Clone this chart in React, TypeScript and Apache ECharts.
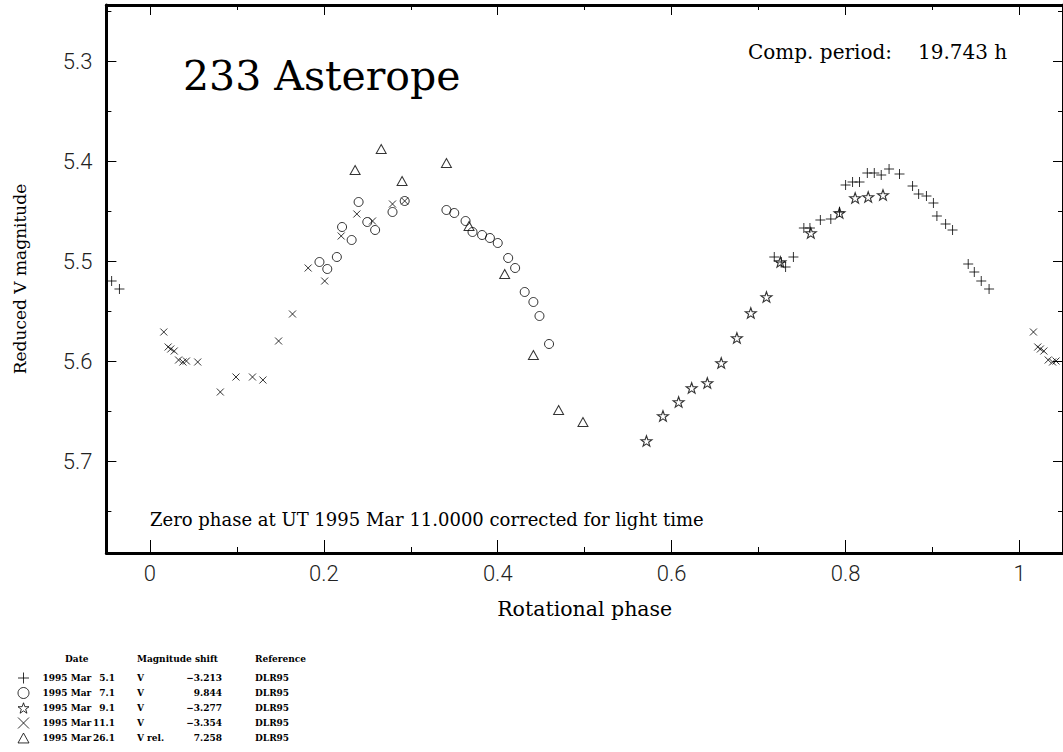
import React, { useEffect, useRef } from "react";
import * as echarts from "echarts";

// Phased photometry of 233 Asterope, one array pair per observing night
const plusPhase = [0.718, 0.726, 0.731, 0.740, 0.752, 0.759, 0.771, 0.783, 0.793, 0.800, 0.808, 0.816, 0.825, 0.833, 0.841, 0.850, 0.862, 0.877, 0.884, 0.893, 0.901, 0.905, 0.915, 0.923, 0.941, 0.948, 0.956, 0.965];
const plusMag = [5.496, 5.501, 5.506, 5.496, 5.467, 5.467, 5.459, 5.458, 5.451, 5.424, 5.421, 5.421, 5.412, 5.412, 5.414, 5.408, 5.413, 5.425, 5.433, 5.435, 5.442, 5.455, 5.463, 5.469, 5.503, 5.511, 5.520, 5.528];

const circlePhase = [0.195, 0.204, 0.215, 0.221, 0.232, 0.240, 0.250, 0.259, 0.279, 0.293, 0.341, 0.350, 0.363, 0.371, 0.382, 0.391, 0.400, 0.412, 0.420, 0.431, 0.441, 0.448, 0.459];
const circleMag = [5.501, 5.508, 5.496, 5.466, 5.479, 5.441, 5.461, 5.469, 5.451, 5.440, 5.449, 5.452, 5.460, 5.471, 5.474, 5.477, 5.482, 5.497, 5.507, 5.531, 5.541, 5.555, 5.583];

const starPhase = [0.571, 0.590, 0.608, 0.623, 0.641, 0.657, 0.675, 0.691, 0.709, 0.725, 0.760, 0.793, 0.811, 0.826, 0.843];
const starMag = [5.680, 5.655, 5.641, 5.627, 5.622, 5.602, 5.577, 5.552, 5.536, 5.501, 5.472, 5.452, 5.437, 5.436, 5.434];

const crossPhase = [0.016, 0.021, 0.024, 0.028, 0.033, 0.038, 0.042, 0.055, 0.081, 0.099, 0.118, 0.130, 0.148, 0.164, 0.182, 0.201, 0.220, 0.238, 0.256, 0.279, 0.293];
const crossMag = [5.571, 5.586, 5.588, 5.590, 5.599, 5.601, 5.600, 5.601, 5.631, 5.616, 5.616, 5.619, 5.580, 5.553, 5.507, 5.520, 5.475, 5.453, 5.460, 5.443, 5.440];

const trianglePhase = [0.236, 0.266, 0.290, 0.341, 0.367, 0.408, 0.441, 0.470, 0.498];
const triangleMag = [5.409, 5.388, 5.420, 5.402, 5.465, 5.513, 5.594, 5.649, 5.661];

// Observing log shown under the plot
const sessionNames = ["1995 Mar 5.1", "1995 Mar 7.1", "1995 Mar 9.1", "1995 Mar 11.1", "1995 Mar 26.1"];
const sessionDays = ["5.1", "7.1", "9.1", "11.1", "26.1"];
const sessionBands = ["V", "V", "V", "V", "V rel."];
const sessionShifts = ["\u22123.213", "9.844", "\u22123.277", "\u22123.354", "7.258"];
const sessionRefs = ["DLR95", "DLR95", "DLR95", "DLR95", "DLR95"];

// Tick positions
const xMajorTicks = [0, 0.2, 0.4, 0.6, 0.8, 1];
const xMinorTicks = [0.1, 0.3, 0.5, 0.7, 0.9];
const yMajorTicks = [5.3, 5.4, 5.5, 5.6, 5.7];
const yMinorTicks = [5.25, 5.35, 5.45, 5.55, 5.65, 5.75];

const PHASE_MIN = -0.05;
const PHASE_MAX = 1.05;
const MAG_MIN = 5.244;
const MAG_MAX = 5.792;

// Repeat each observation one cycle earlier/later where it still falls inside the phase window
function folded(phases: number[], mags: number[]) {
  const out: number[][] = [];
  phases.forEach((p, i) => {
    out.push([p, mags[i]]);
    if (p + 1 <= PHASE_MAX) out.push([p + 1, mags[i]]);
    if (p - 1 >= PHASE_MIN) out.push([p - 1, mags[i]]);
  });
  return out;
}

const PLUS = "path://M0,5L10,5M5,0L5,10";
const CROSS = "path://M0,0L10,10M10,0L0,10";
const TRIANGLE = "path://M5,0L10,9L0,9Z";
const STAR = "path://M10,0L12.35,6.76L19.51,6.91L13.8,11.24L15.88,18.09L10,14L4.12,18.09L6.2,11.24L0.49,6.91L7.65,6.76Z";

const LABEL_FONT = "Roboto";
const SERIF = "'DejaVu Serif'";

// Legend table layout
const LEGEND_TOP = 672;
const LEGEND_ROW = 15;
const LEGEND_ITEM_H = 12;

function xAxis(position: "top" | "bottom", ticks: number[], len: number, main: boolean) {
  return {
    type: "value",
    position,
    min: PHASE_MIN,
    max: PHASE_MAX,
    splitLine: { show: false },
    axisLine: { show: main, onZero: false, lineStyle: { color: "#000", width: 3 } },
    axisTick: { show: true, inside: true, length: len, customValues: ticks, lineStyle: { color: "#000", width: 1 } },
    axisLabel: { show: false },
  } as any;
}

function yAxis(position: "left" | "right", ticks: number[], len: number, main: boolean) {
  return {
    type: "value",
    position,
    inverse: true,
    min: MAG_MIN,
    max: MAG_MAX,
    splitLine: { show: false },
    axisLine: { show: main, onZero: false, lineStyle: { color: "#000", width: 3 } },
    axisTick: { show: true, inside: true, length: len, customValues: ticks, lineStyle: { color: "#000", width: 1 } },
    axisLabel: { show: false },
  } as any;
}

function scatter(name: string, phases: number[], mags: number[], symbol: string, size: number | number[], bw = 1) {
  return {
    name,
    type: "scatter",
    xAxisIndex: 0,
    yAxisIndex: 0,
    data: folded(phases, mags),
    symbol,
    symbolSize: size,
    itemStyle: { color: "rgba(0,0,0,0)", borderColor: "#000", borderWidth: bw },
    emphasis: { disabled: true },
    silent: true,
  };
}

function legendText(x: number, row: number, text: string, align: "left" | "right") {
  return {
    type: "text",
    x,
    y: LEGEND_TOP + LEGEND_ITEM_H / 2 + row * LEGEND_ROW,
    silent: true,
    style: { text, font: `bold 9px ${SERIF}`, fill: "#000", textAlign: align, textVerticalAlign: "middle" },
  };
}

export default function App() {
  const ref = useRef<HTMLDivElement>(null);

  useEffect(() => {
    if (!ref.current) return;
    const chart = echarts.init(ref.current, undefined, { renderer: "svg" });

    const bottomMain = xAxis("bottom", xMajorTicks, 13, true);
    bottomMain.axisLabel = {
      show: true,
      customValues: xMajorTicks,
      margin: 9,
      color: "#222",
      fontFamily: LABEL_FONT,
      fontWeight: 300,
      fontSize: 22,
      formatter: (v: number) => String(v),
    };
    bottomMain.name = "Rotational phase";
    bottomMain.nameLocation = "middle";
    bottomMain.nameGap = 45;
    bottomMain.nameTextStyle = { fontFamily: SERIF, fontSize: 20.5, color: "#000" };

    const leftMain = yAxis("left", yMajorTicks, 10, true);
    leftMain.axisLabel = {
      show: true,
      customValues: yMajorTicks,
      margin: 14,
      color: "#222",
      fontFamily: LABEL_FONT,
      fontWeight: 300,
      fontSize: 22,
      formatter: (v: number) => v.toFixed(1),
    };
    leftMain.name = "Reduced V magnitude";
    leftMain.nameLocation = "middle";
    leftMain.nameGap = 78;
    leftMain.nameTextStyle = { fontFamily: SERIF, fontSize: 17, color: "#000" };

    const headerFont = `bold 9px ${SERIF}`;
    const legendColumns: any[] = [];
    sessionNames.forEach((_, i) => {
      legendColumns.push(legendText(115, i, sessionDays[i], "right"));
      legendColumns.push(legendText(137, i, sessionBands[i], "left"));
      legendColumns.push(legendText(222, i, sessionShifts[i], "right"));
      legendColumns.push(legendText(255, i, sessionRefs[i], "left"));
    });

    chart.setOption({
      animation: false,
      backgroundColor: "#fff",
      grid: { left: 106.4, right: -2, top: 5, bottom: 199, containLabel: false },
      xAxis: [
        bottomMain,
        xAxis("bottom", xMinorTicks, 6, false),
        xAxis("top", xMajorTicks, 10, true),
        xAxis("top", xMinorTicks, 5, false),
      ],
      yAxis: [
        leftMain,
        yAxis("left", yMinorTicks, 5, false),
        yAxis("right", yMajorTicks, 10, true),
        yAxis("right", yMinorTicks, 5, false),
      ],
      legend: {
        orient: "vertical",
        left: 17.5,
        top: LEGEND_TOP,
        padding: 0,
        itemGap: LEGEND_ROW - LEGEND_ITEM_H,
        itemWidth: 11,
        itemHeight: 11,
        selectedMode: false,
        data: sessionNames,
        itemStyle: { color: "rgba(0,0,0,0)", borderColor: "#000", borderWidth: 1 },
        textStyle: {
          fontFamily: SERIF,
          fontWeight: "bold",
          fontSize: 9,
          color: "#000",
          lineHeight: LEGEND_ITEM_H,
          rich: { sp: { width: 8.5 }, d: {} },
        },
        formatter: () => "{sp| }{d|1995 Mar}",
      },
      graphic: {
        elements: [
          { type: "text", x: 183, y: 76, silent: true, style: { text: "233 Asterope", font: `41px ${SERIF}`, fill: "#000", textVerticalAlign: "middle" } },
          { type: "text", x: 748, y: 52, silent: true, style: { text: "Comp. period:", font: `20px ${SERIF}`, fill: "#000", textVerticalAlign: "middle" } },
          { type: "text", x: 918, y: 52, silent: true, style: { text: "19.743 h", font: `20px ${SERIF}`, fill: "#000", textVerticalAlign: "middle" } },
          { type: "text", x: 150, y: 519, silent: true, style: { text: "Zero phase at UT 1995 Mar 11.0000 corrected for light time", font: `18px ${SERIF}`, fill: "#000", textVerticalAlign: "middle" } },
          { type: "text", x: 65, y: 659, silent: true, style: { text: "Date", font: headerFont, fill: "#000", textVerticalAlign: "middle" } },
          { type: "text", x: 137, y: 659, silent: true, style: { text: "Magnitude shift", font: headerFont, fill: "#000", textVerticalAlign: "middle" } },
          { type: "text", x: 255, y: 659, silent: true, style: { text: "Reference", font: headerFont, fill: "#000", textVerticalAlign: "middle" } },
          ...legendColumns,
        ],
      },
      series: [
        scatter(sessionNames[0], plusPhase, plusMag, PLUS, [10, 10]),
        scatter(sessionNames[1], circlePhase, circleMag, "circle", 9),
        scatter(sessionNames[2], starPhase, starMag, STAR, [11, 10.5], 1.1),
        scatter(sessionNames[3], crossPhase, crossMag, CROSS, [7, 7]),
        scatter(sessionNames[4], trianglePhase, triangleMag, TRIANGLE, [10, 9]),
      ],
    });

    return () => chart.dispose();
  }, []);

  return (
    <div
      ref={ref}
      style={{ position: "fixed", left: 0, top: 0, width: 1063, height: 752, background: "#fff" }}
    />
  );
}
